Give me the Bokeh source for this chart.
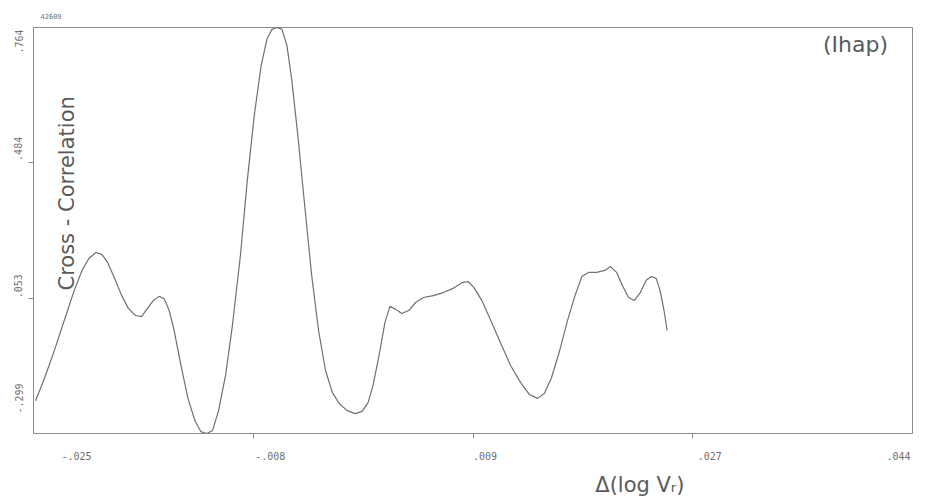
import math
from bokeh.plotting import figure
from bokeh.models import Range1d, FixedTicker, Label, Title
from bokeh.embed import file_html
from bokeh.resources import INLINE

# ---- data ----
x_vals = [-0.02514, -0.02444, -0.02366, -0.02288, -0.02210, -0.02148, -0.02094, -0.02039,
          -0.01992, -0.01946, -0.01891, -0.01836, -0.01782, -0.01727, -0.01681, -0.01634,
          -0.01587, -0.01540, -0.01501, -0.01462, -0.01423, -0.01369, -0.01314, -0.01260,
          -0.01213, -0.01166, -0.01120, -0.01073, -0.01018, -0.00964, -0.00901, -0.00847,
          -0.00792, -0.00738, -0.00691, -0.00652, -0.00613, -0.00574, -0.00535, -0.00496,
          -0.00449, -0.00395, -0.00340, -0.00286, -0.00231, -0.00177, -0.00122, -0.00060,
          0.00003, 0.00057, 0.00104, 0.00143, 0.00190, 0.00237, 0.00276, 0.00322,
          0.00369, 0.00424, 0.00478, 0.00540, 0.00618, 0.00696, 0.00774, 0.00844,
          0.00891, 0.00938, 0.01000, 0.01070, 0.01148, 0.01226, 0.01304, 0.01374,
          0.01437, 0.01491, 0.01546, 0.01608, 0.01670, 0.01733, 0.01787, 0.01842,
          0.01904, 0.01967, 0.02013, 0.02060, 0.02107, 0.02154, 0.02200, 0.02247,
          0.02294, 0.02333, 0.02372, 0.02403, 0.02434, 0.02458]
y_vals = [-0.213, -0.155, -0.082, -0.003, 0.075, 0.128, 0.159, 0.175,
          0.170, 0.149, 0.107, 0.062, 0.028, 0.010, 0.007, 0.028,
          0.049, 0.060, 0.054, 0.023, -0.029, -0.121, -0.207, -0.265,
          -0.294, -0.299, -0.291, -0.239, -0.147, -0.016, 0.167, 0.363,
          0.534, 0.664, 0.735, 0.759, 0.764, 0.759, 0.717, 0.625,
          0.481, 0.298, 0.115, -0.029, -0.134, -0.192, -0.221, -0.239,
          -0.247, -0.241, -0.218, -0.173, -0.095, -0.008, 0.034, 0.026,
          0.015, 0.023, 0.044, 0.057, 0.062, 0.070, 0.081, 0.096,
          0.099, 0.083, 0.049, -0.003, -0.063, -0.121, -0.165, -0.197,
          -0.207, -0.194, -0.155, -0.087, -0.008, 0.062, 0.112, 0.123,
          0.123, 0.128, 0.138, 0.123, 0.088, 0.057, 0.049, 0.070,
          0.102, 0.112, 0.107, 0.075, 0.023, -0.029]

x_ticks = [-0.0253, -0.0080, 0.0093, 0.0266, 0.0439]
x_tick_labels = ["-.025", "-.008", ".009", ".027", ".044"]
y_ticks = [-0.299, 0.0553, 0.4097, 0.764]
y_tick_labels = ["-.299", ".053", ".484", ".764"]

plot_id = "42609"
y_title = "Cross - Correlation"
tag = "(Ihap)"
x_title = "Δ(log Vᵣ)"

LINE = "#707070"
FRAME = "#8c8c8c"
TXT = "#707070"
DARK = "#5a5a5a"
FONT = "DejaVu Sans"
MONO = "DejaVu Sans Mono"

FRAME_W, FRAME_H = 879, 406
p = figure(width=920, height=504, output_backend="svg", toolbar_location=None,
           x_range=Range1d(x_ticks[0], x_ticks[-1]),
           y_range=Range1d(y_ticks[0], y_ticks[-1]),
           min_border_left=33, min_border_right=8, min_border_top=27,
           min_border_bottom=71)
p.background_fill_color = "white"
p.border_fill_color = "white"
p.outline_line_color = FRAME
p.outline_line_width = 1
p.xgrid.visible = False
p.ygrid.visible = False

p.title.text = plot_id
p.title.align = "left"
p.title.offset = 7
p.title.standoff = 17
p.title.text_font = MONO
p.title.text_font_size = "7px"
p.title.text_font_style = "normal"
p.title.text_color = TXT

# the plotter drew each label just beside its tick: labels sit on the major
# ticks (marks hidden), the visible tick marks are the minor ticks
xpp = (x_ticks[-1] - x_ticks[0]) / FRAME_W
ypp = (y_ticks[-1] - y_ticks[0]) / FRAME_H
x_shift_px = [43, 17, 12, 17, -14]
y_shift_px = [50, 24, 26, -2]
x_lab_pos = [t + s * xpp for t, s in zip(x_ticks, x_shift_px)]
y_lab_pos = [t + s * ypp for t, s in zip(y_ticks, y_shift_px)]

p.xaxis.ticker = FixedTicker(ticks=x_lab_pos, minor_ticks=x_ticks[1:-1])
p.xaxis.major_label_overrides = {v: l for v, l in zip(x_lab_pos, x_tick_labels)}
p.yaxis.ticker = FixedTicker(ticks=y_lab_pos, minor_ticks=y_ticks[1:-1])
p.yaxis.major_label_overrides = {v: l for v, l in zip(y_lab_pos, y_tick_labels)}
p.yaxis.major_label_orientation = math.pi / 2
for ax in (p.xaxis, p.yaxis):
    ax.axis_line_color = FRAME
    ax.major_tick_line_color = None
    ax.major_tick_out = 0
    ax.major_tick_in = 0
    ax.minor_tick_line_color = FRAME
    ax.minor_tick_out = 5
    ax.minor_tick_in = 0
    ax.major_label_text_font = MONO
    ax.major_label_text_font_size = "10px"
    ax.major_label_text_color = TXT
p.xaxis.major_label_standoff = 13
p.yaxis.major_label_standoff = 10

p.add_layout(Title(text=x_title, align="right", offset=228, standoff=16,
                   text_font=FONT, text_font_size="21px", text_font_style="normal",
                   text_color=DARK), "below")

p.line(x_vals, y_vals, line_color=LINE, line_width=1.2)

p.add_layout(Label(x=33, y=143, x_units="screen", y_units="screen", text=y_title,
                   angle=math.pi / 2, text_align="left", text_baseline="middle",
                   text_font=FONT, text_font_size="21px", text_color=DARK))

p.add_layout(Label(x=822, y=389, x_units="screen", y_units="screen", text=tag,
                   text_align="center", text_baseline="middle",
                   text_font=FONT, text_font_size="22px", text_color=DARK))

open("out.html", "w").write(file_html(p, INLINE))
